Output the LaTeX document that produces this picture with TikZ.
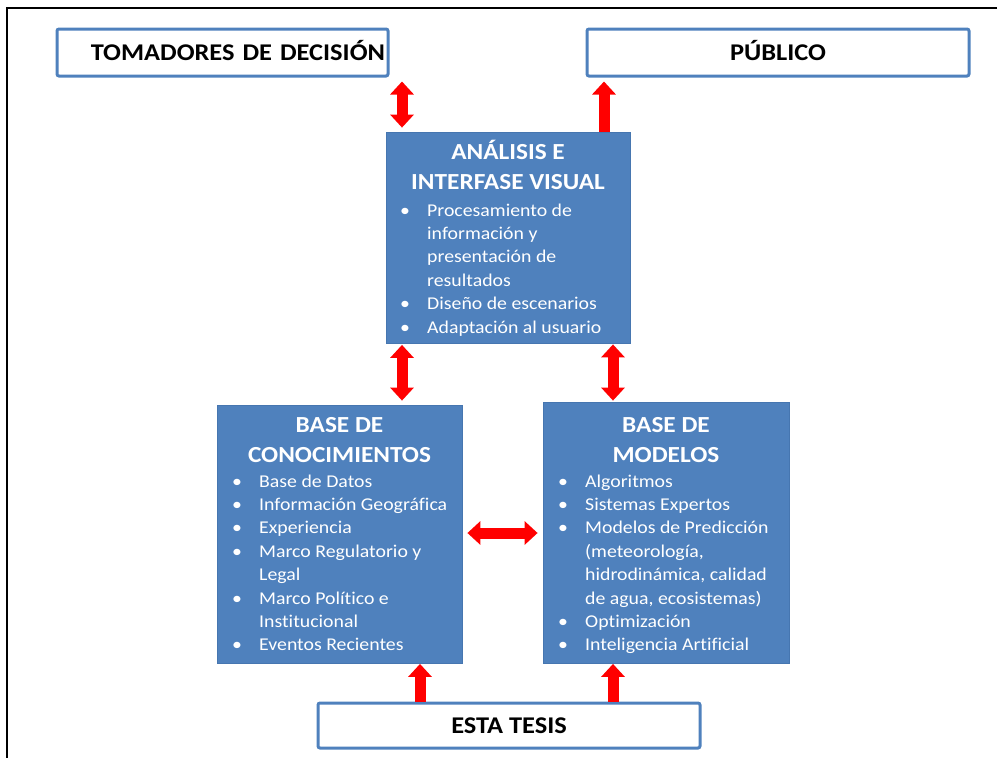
\documentclass[tikz,border=0pt]{standalone}
\usepackage{fontspec}
\setmainfont{Carlito}[FakeStretch=1.1, Ligatures=NoCommon]
\usetikzlibrary{arrows.meta, calc}

\definecolor{cajaazul}{HTML}{4F81BD}
\definecolor{bordeazul}{HTML}{4676B0}
\definecolor{rojo}{HTML}{FF0000}

\begin{document}
\begin{tikzpicture}[x=1pt, y=-1pt, >=Triangle,
    cajablanca/.style={draw=cajaazul, line width=3pt, rounded corners=2pt, fill=white,
        font=\fontsize{24}{28}\selectfont\bfseries, text height=15.5pt, text depth=0pt},
    cajasolida/.style={fill=cajaazul, draw=bordeazul, line width=0.8pt, inner sep=0pt},
    titulo/.style={text=white, font=\fontsize{23}{30}\selectfont\bfseries, align=center, anchor=north, inner sep=0pt},
    lista/.style={text=white, font=\fontsize{18}{23.4}\selectfont, align=left, anchor=north west, inner sep=0pt},
    flecha/.style={rojo, line width=11pt, -{Triangle[width=23pt,length=13pt]}},
    flechadoble/.style={rojo, line width=11pt, {Triangle[width=23pt,length=13pt]}-{Triangle[width=23pt,length=13pt]}}]

    % 0. Marco de la figura
    \useasboundingbox (0,0) rectangle (1001,758);
    \draw[line width=2.7pt] (997,8) -- (7,8) -- (7,758);

    % 1. Cajas blancas (actores y esta tesis)
    \node[cajablanca, minimum width=331pt, minimum height=47pt, text width=325pt, inner xsep=3pt, align=right]
        (tom) at (222.5,52.5) {TOMADORES DE DECISIÓN};
    \node[cajablanca, minimum width=382pt, minimum height=47pt] (pub) at (778,52.5) {PÚBLICO};
    \node[cajablanca, minimum width=382pt, minimum height=45pt] (tesis) at (509,725.5) {ESTA TESIS};

    % 2. Cajas azules (componentes del sistema)
    \node[cajasolida, minimum width=244pt, minimum height=211pt] (ana) at (508.5,237.5) {};
    \node[cajasolida, minimum width=245pt, minimum height=258pt] (conoc) at (339.5,534) {};
    \node[cajasolida, minimum width=246pt, minimum height=261pt] (mod) at (666,532.5) {};

    % Títulos (la regla fija la altura de la primera línea)
    \node[titulo] (anatit) at (508,137) {\rule{0pt}{22pt}ANÁLISIS E\\INTERFASE VISUAL};
    \node[titulo] (contit) at (339.5,410) {\rule{0pt}{22pt}BASE DE\\CONOCIMIENTOS};
    \node[titulo] (modtit) at (666,410) {\rule{0pt}{22pt}BASE DE\\MODELOS};

    % Listas con viñetas
    \node[lista] (analis) at (400,199.6) {%
        \begin{tabular}{@{}p{27pt}@{}l@{}}
        \textbullet & Procesamiento de\\
                    & información y\\
                    & presentación de\\
                    & resultados\\
        \textbullet & Diseño de escenarios\\
        \textbullet & Adaptación al usuario
        \end{tabular}};
    \node[lista] (conlis) at (232,470.6) {%
        \begin{tabular}{@{}p{27pt}@{}l@{}}
        \textbullet & Base de Datos\\
        \textbullet & Información Geográfica\\
        \textbullet & Experiencia\\
        \textbullet & Marco Regulatorio y\\
                    & Legal\\
        \textbullet & Marco Político e\\
                    & Institucional\\
        \textbullet & Eventos Recientes
        \end{tabular}};
    \node[lista] (modlis) at (558,470.6) {%
        \begin{tabular}{@{}p{27pt}@{}l@{}}
        \textbullet & Algoritmos\\
        \textbullet & Sistemas Expertos\\
        \textbullet & Modelos de Predicción\\
                    & (meteorología,\\
                    & hidrodinámica, calidad\\
                    & de agua, ecosistemas)\\
        \textbullet & Optimización\\
        \textbullet & Inteligencia Artificial
        \end{tabular}};

    % 3. Flechas rojas
    \coordinate (xizq) at (402,0);
    \coordinate (xpub) at (604,0);
    \coordinate (xder) at (613,0);
    \coordinate (xtes) at (420,0);
    \coordinate (ymed) at (0,533);

    \draw[flechadoble, shorten <=4pt, shorten >=4pt] (tom.south -| xizq) -- (ana.north -| xizq);
    \draw[flecha, shorten >=4pt] (ana.north -| xpub) -- (pub.south -| xpub);
    \draw[flechadoble, shorten <=1.5pt, shorten >=4pt] (ana.south -| xizq) -- (conoc.north -| xizq);
    \draw[flechadoble, shorten <=1pt, shorten >=1pt] (ana.south -| xder) -- (mod.north -| xder);
    \draw[flechadoble, shorten <=5pt, shorten >=5pt] (conoc.east |- ymed) -- (mod.west |- ymed);
    \draw[flecha, shorten >=0.5pt] (tesis.north -| xtes) -- (conoc.south -| xtes);
    \draw[flecha, shorten >=0.5pt] (tesis.north -| xder) -- (mod.south -| xder);

\end{tikzpicture}
\end{document}
